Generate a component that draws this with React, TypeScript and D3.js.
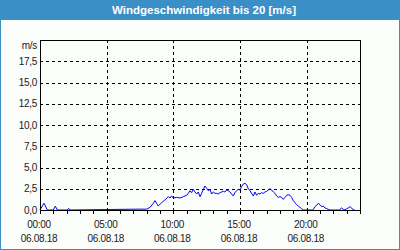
import React from "react";
import * as d3 from "d3";

const TITLE = "Windgeschwindigkeit bis 20 [m/s]";
const UNIT = "m/s";
const DATE_LABEL = "06.08.18";
const yTicks = [0, 2.5, 5, 7.5, 10, 12.5, 15, 17.5];
const xMajorHours = [0, 5, 10, 15, 20];
const xMinorHours = d3.range(0, 25);

// hours since 00:00
const hours = [
  0, 0.3, 0.55, 1.0, 1.15, 1.3, 2.05, 2.15, 2.25, 7.37, 8.0, 8.25, 8.5, 8.62, 8.75, 8.87,
  9.12, 9.37, 9.62, 9.75, 9.87, 10.0, 10.25, 10.5, 10.75, 11.0, 11.12, 11.25, 11.37, 11.5,
  11.62, 11.75, 11.87, 12.0, 12.12, 12.25, 12.37, 12.5, 12.62, 12.75, 12.87, 13.0, 13.12,
  13.25, 13.37, 13.5, 13.62, 13.75, 13.87, 14.0, 14.12, 14.25, 14.37, 14.5, 14.62, 14.75,
  14.87, 15.0, 15.12, 15.25, 15.37, 15.5, 15.62, 15.75, 15.87, 16.0, 16.12, 16.25, 16.37,
  16.5, 16.62, 16.75, 16.87, 17.0, 17.12, 17.25, 17.37, 17.5, 17.62, 17.75, 17.87, 18.0,
  18.12, 18.25, 18.37, 18.5, 18.62, 18.75, 18.87, 19.0, 19.12, 19.25, 19.37, 19.5, 19.62,
  19.75, 20.45, 20.5, 20.62, 20.75, 20.87, 21.0, 21.12, 21.25, 21.37, 21.5, 21.62, 21.75,
  22.45, 22.5, 22.62, 22.75, 22.87, 23.0, 23.12, 23.25, 23.37, 23.5, 23.62,
];
const speeds = [
  0, 0.8, 0, 0, 0.45, 0, 0, 0.2, 0, 0.1, 0.1, 0.31, 0.78, 1.1, 0.78, 0.47,
  0.86, 1.18, 1.57, 1.41, 1.65, 1.41, 1.49, 1.41, 1.57, 1.73, 1.96, 2.27, 2.04, 2.43,
  2.12, 1.88, 2.12, 1.57, 1.96, 2.43, 2.82, 2.55, 2.27, 2.43, 1.88, 2.12, 1.96,
  1.96, 1.88, 2.04, 2.12, 2.2, 2.12, 2.35, 2.27, 2.12, 1.88, 1.65, 2.04, 2.27,
  2.43, 2.35, 2.75, 3.06, 3.14, 2.98, 2.51, 2.27, 1.96, 1.65, 2.12, 1.73, 1.96,
  1.88, 2.04, 1.96, 2.12, 2.2, 2.35, 2.51, 2.35, 2.12, 1.96, 1.65, 1.49, 1.57,
  1.49, 1.25, 1.49, 1.73, 1.8, 1.73, 1.49, 1.1, 0.86, 0.63, 0.47, 0.31, 0.16,
  0, 0, 0.08, 0.39, 0.55, 0.78, 0.63, 0.39, 0.47, 0.24, 0.16, 0.08, 0,
  0, 0.08, 0.24, 0.08, 0, 0.16, 0.24, 0.39, 0.24, 0, 0,
];

const W = 400;
const H = 250;
const L = 40, R = 360, T = 40, B = 210;
const FONT = "Liberation Sans, Arial, sans-serif";

export default function App() {
  const x = d3.scaleLinear().domain([0, 24]).range([L, R]);
  const y = d3.scaleLinear().domain([0, 20]).range([B, T]);
  const data = hours.map((h, i) => [h, speeds[i]] as [number, number]);
  const line = d3
    .line<[number, number]>()
    .x((d) => x(d[0]))
    .y((d) => y(d[1]));
  const fmt = (v: number) => v.toFixed(1).replace(".", ",");
  const fmtH = (h: number) => `${String(h).padStart(2, "0")}:00`;

  return (
    <svg
      width={W}
      height={H}
      style={{ position: "fixed", left: 0, top: 0, display: "block" }}
      fontFamily={FONT}
    >
      <rect x={0} y={0} width={W} height={H} fill="#fafdfa" />
      <rect x={0} y={0} width={W} height={20} fill="#3b8fc7" />
      <rect x={0.5} y={0.5} width={W - 1} height={H - 1} fill="none" stroke="#3b8fc7" strokeWidth={1} />
      <text
        x={204}
        y={14}
        textAnchor="middle"
        fill="#ffffff"
        fontSize={11.5}
        fontWeight="bold"
      >
        {TITLE}
      </text>

      {/* grid */}
      {yTicks
        .filter((v) => v > 0)
        .map((v) => (
          <line
            key={"gy" + v}
            x1={L}
            x2={R}
            y1={Math.round(y(v)) + 0.5}
            y2={Math.round(y(v)) + 0.5}
            stroke="#000"
            strokeDasharray="3,3"
          />
        ))}
      {xMajorHours
        .filter((h) => h > 0)
        .map((h) => (
          <line
            key={"gx" + h}
            x1={Math.round(x(h)) + 0.5}
            x2={Math.round(x(h)) + 0.5}
            y1={T}
            y2={B}
            stroke="#000"
            strokeDasharray="3,3"
          />
        ))}

      {/* data line */}
      <path d={line(data) || ""} fill="none" stroke="#0000ff" strokeWidth={1} />

      {/* frame */}
      <rect x={L + 0.5} y={T + 0.5} width={R - L} height={B - T} fill="none" stroke="#000" strokeWidth={1} />

      {/* minor ticks */}
      {xMinorHours.map((h) => (
        <line
          key={"t" + h}
          x1={Math.round(x(h)) + 0.5}
          x2={Math.round(x(h)) + 0.5}
          y1={B}
          y2={B + 4}
          stroke="#000"
        />
      ))}

      {/* y labels */}
      <text x={37} y={49} textAnchor="end" fontSize={10} fill="#1a1a1a" letterSpacing={-0.3}>
        {UNIT}
      </text>
      {yTicks.map((v) => (
        <text
          key={"yl" + v}
          x={37}
          y={y(v) + 3.5}
          textAnchor="end"
          fontSize={10}
          fill="#1a1a1a"
          letterSpacing={-0.3}
        >
          {fmt(v)}
        </text>
      ))}

      {/* x labels */}
      {xMajorHours.map((h) => (
        <g key={"xl" + h}>
          <text x={x(h) - 1} y={227.5} textAnchor="middle" fontSize={10} fill="#1a1a1a" letterSpacing={-0.3}>
            {fmtH(h)}
          </text>
          <text x={x(h) - 1} y={242} textAnchor="middle" fontSize={10} fill="#1a1a1a" letterSpacing={-0.3}>
            {DATE_LABEL}
          </text>
        </g>
      ))}
    </svg>
  );
}
